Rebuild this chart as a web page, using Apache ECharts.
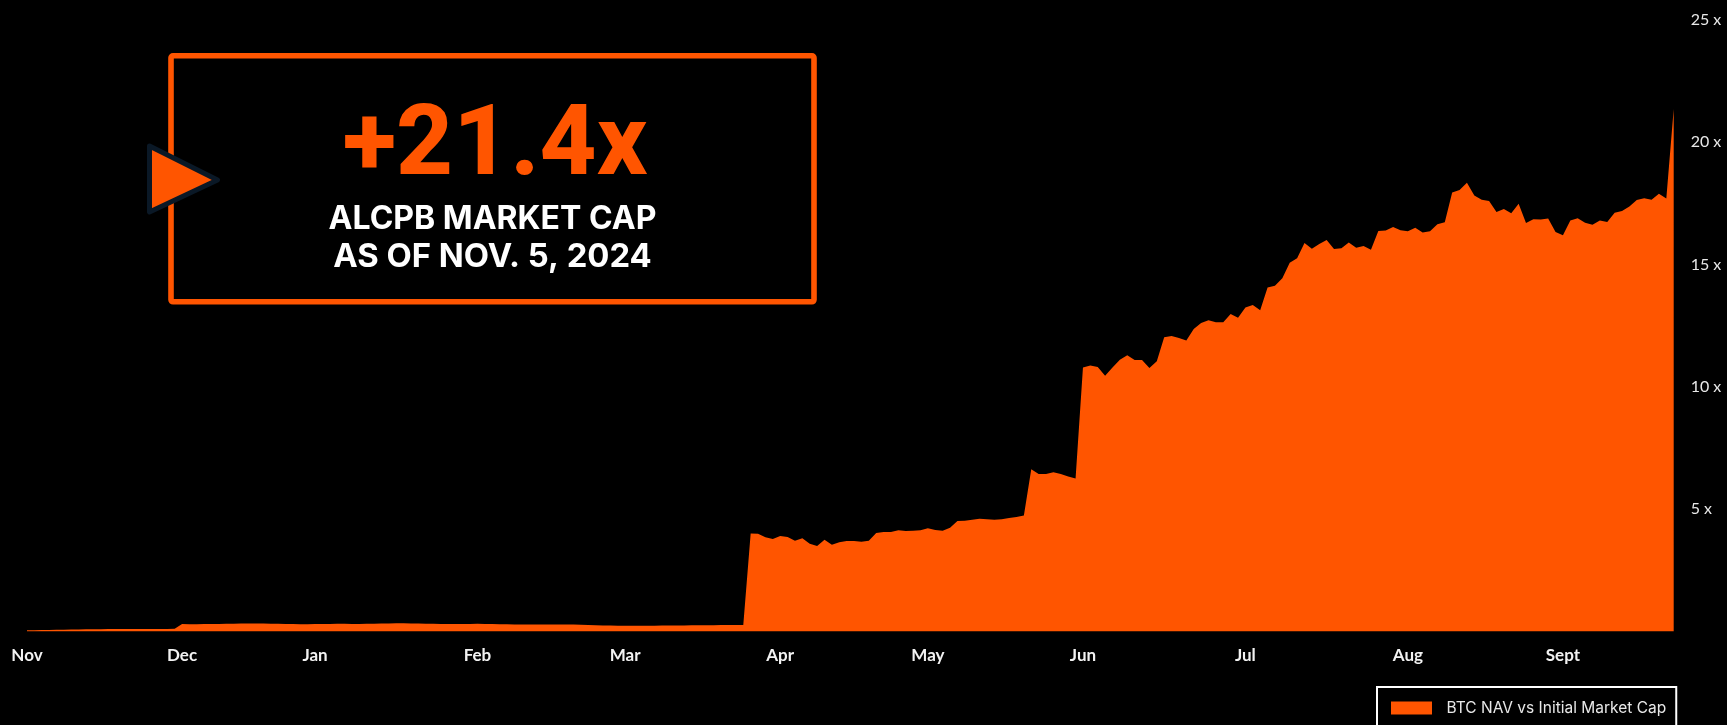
<!DOCTYPE html>
<html>
<head>
<meta charset="utf-8">
<style>html,body{margin:0;padding:0;background:#000;overflow:hidden}#c{width:1727px;height:725px}</style>
<script src="https://cdn.jsdelivr.net/npm/echarts@6/dist/echarts.min.js"></script>
</head>
<body>
<div id="c"></div>
<script>
const monthLabels = ['Nov','Dec','Jan','Feb','Mar','Apr','May','Jun','Jul','Aug','Sept'];
const monthStarts = [0,21,39,61,81,102,122,143,165,187,208];
const novDec = [0.05,0.05,0.06,0.06,0.07,0.07,0.08,0.08,0.09,0.09,0.09,0.10,0.10,0.10,0.10,0.10,0.10,0.10,0.10,0.10,0.11];
const decMar = [0.31,0.30,0.30,0.31,0.31,0.31,0.32,0.32,0.33,0.33,
0.33,0.33,0.32,0.32,0.31,0.31,0.30,0.30,0.31,0.31,
0.31,0.32,0.32,0.31,0.31,0.32,0.32,0.33,0.33,0.34,
0.34,0.33,0.33,0.32,0.32,0.31,0.31,0.31,0.31,0.31,
0.32,0.31,0.31,0.30,0.30,0.29,0.29,0.29,0.29,0.29,
0.29,0.29,0.29,0.29,0.28,0.27,0.26,0.25,0.25,0.24,
0.24,0.24,0.24,0.24,0.24,0.25,0.25,0.25,0.25,0.26,
0.26,0.26,0.26,0.27,0.27,0.27,0.27];
const aprMay = [4.01,4.00,3.85,3.78,3.90,3.86,3.71,3.81,3.59,3.50,
3.75,3.55,3.65,3.70,3.70,3.67,3.71,4.03,4.07,4.07,
4.14,4.11,4.12,4.14,4.22,4.15,4.12,4.24,4.52,4.53,
4.57,4.61,4.59,4.57,4.59,4.64,4.68,4.74,6.63,6.44,
6.44,6.51,6.44,6.34,6.26];
const junJul = [10.79,10.88,10.81,10.46,10.79,11.11,11.29,11.10,11.10,10.77,
11.05,12.03,12.08,12.00,11.90,12.37,12.61,12.72,12.64,12.64,
12.98,12.83,13.25,13.35,13.13,14.06,14.14,14.44,15.08,15.26];
const julSep = [15.88,15.65,15.84,16.01,15.64,15.67,15.90,15.69,15.76,15.61,
16.37,16.39,16.54,16.40,16.36,16.51,16.31,16.36,16.65,16.73,
17.95,18.05,18.35,17.82,17.65,17.60,17.15,17.27,17.10,17.49,
16.70,16.85,16.84];
const sepEnd = [16.88,16.33,16.20,16.80,16.89,16.71,16.63,16.80,16.74,17.12,
17.19,17.38,17.64,17.71,17.65,17.90,17.70,21.36];
const navMultiple = [].concat(novDec, decMar, aprMay, junJul, julSep, sepEnd);
const categories = navMultiple.map((_, i) => {
  const k = monthStarts.indexOf(i);
  return k >= 0 ? monthLabels[k] : '';
});
const ORANGE = '#FF5500';
const chart = echarts.init(document.getElementById('c'), null, {renderer:'canvas'});
chart.setOption({
  animation:false,
  backgroundColor:'#000',
  grid:{left:27,right:53.3,top:20,bottom:93.5,containLabel:false},
  legend:{
    show:true,left:1377,top:687,orient:'horizontal',
    borderColor:'#fff',borderWidth:2,borderRadius:0,
    padding:[13,10,20,14],
    itemWidth:41,itemHeight:13,itemGap:0,
    icon:'rect',
    textStyle:{color:'#e8e8e8',fontFamily:'Inter',fontSize:15.5,padding:[0,0,0,9.5]},
    data:['BTC NAV vs Initial Market Cap']
  },
  xAxis:{
    type:'category',boundaryGap:false,data:categories,
    axisLine:{show:false},axisTick:{show:false},splitLine:{show:false},
    axisLabel:{interval:0,color:'#f2f2f2',fontFamily:'Lato',fontWeight:'bold',fontSize:17,margin:16,hideOverlap:false}
  },
  yAxis:{
    type:'value',position:'right',min:0,max:25,interval:5,
    axisLine:{show:false},axisTick:{show:false},splitLine:{show:false},
    axisLabel:{color:'#e8e8e8',fontFamily:'Lato',fontSize:16,margin:17,align:'left',padding:[0,0,10,0],
      formatter:v=>v===0?'':v+' x'}
  },
  series:[{
    name:'BTC NAV vs Initial Market Cap',type:'line',data:navMultiple,
    showSymbol:false,symbol:'none',smooth:false,
    lineStyle:{width:0,color:ORANGE},
    itemStyle:{color:ORANGE},
    areaStyle:{color:ORANGE,opacity:1}
  }],
  graphic:[
    {type:'rect',silent:true,z:10,shape:{x:171,y:55.8,width:643,height:246,r:2},
      style:{fill:'transparent',stroke:ORANGE,lineWidth:5.6}},
    {type:'polygon',silent:true,z:11,shape:{points:[[149.5,146],[217.5,180],[149.5,212]]},
      style:{fill:ORANGE,stroke:'#0a1826',lineWidth:5,lineJoin:'round'}},
    {type:'text',silent:true,z:11,style:{text:'+21.4x',x:495,y:149.5,align:'center',verticalAlign:'middle',fill:ORANGE,font:'800 99px Roboto'}},
    {type:'text',silent:true,z:11,style:{text:'ALCPB MARKET CAP',x:492.5,y:219.5,align:'center',verticalAlign:'middle',fill:'#fff',font:'700 32px Inter'}},
    {type:'text',silent:true,z:11,style:{text:'AS OF NOV. 5, 2024',x:492.5,y:257.5,align:'center',verticalAlign:'middle',fill:'#fff',font:'700 32.8px Inter'}}
  ]
});
</script>
</body>
</html>
